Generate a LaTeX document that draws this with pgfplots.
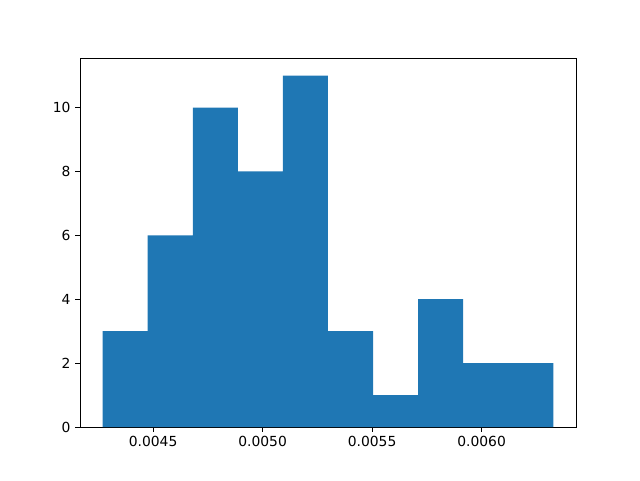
\documentclass[border=0pt]{standalone}
\usepackage{pgfplots}
\pgfplotsset{compat=1.18}
\usepackage{fontspec}
\setmainfont{DejaVu Sans}
\definecolor{mplblue}{HTML}{1F77B4}
\begin{document}
\begin{tikzpicture}
\begin{axis}[
    scale only axis,
    width=372pt,
    height=276.75pt,
    xmin=0.0041661, xmax=0.0064309,
    ymin=0, ymax=11.55,
    xtick={0.0045,0.0050,0.0055,0.0060},
    xticklabels={0.0045,0.0050,0.0055,0.0060},
    ytick={0,2,4,6,8,10},
    scaled x ticks=false,
    tick align=outside,
    tick pos=left,
    major tick length=3.65pt,
    tick style={black, line width=0.6pt},
    axis line style={line width=0.6pt},
    every tick label/.append style={font=\fontsize{10.4}{12}\selectfont},
    /pgf/number format/assume math mode=true,
    axis on top=false,
]
\addplot[ybar interval, fill=mplblue, draw=none] coordinates {
    (0.004269,3) (0.004475,6) (0.004681,10) (0.004887,8) (0.005093,11)
    (0.005298,3) (0.005504,1) (0.005710,4) (0.005916,2) (0.006122,2)
    (0.006328,2)
};
\end{axis}
\path (current axis.south west) ++(-60pt,-39.75pt) rectangle ++(480pt,360pt);
\end{tikzpicture}
\end{document}
